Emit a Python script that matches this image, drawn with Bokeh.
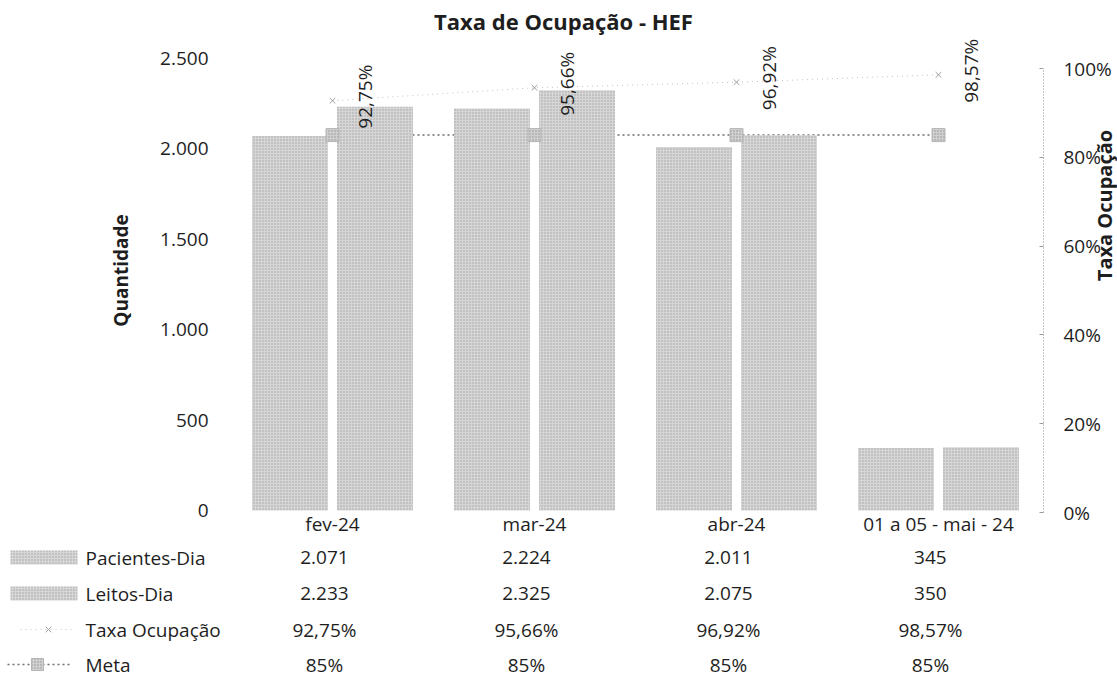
import math
from bokeh.plotting import figure
from bokeh.models import Range1d, LinearAxis, FixedTicker
from bokeh.core.properties import value
from bokeh.embed import file_html
from bokeh.resources import INLINE

# ---------------- data ----------------
categories = ["fev-24", "mar-24", "abr-24", "01 a 05 - mai - 24"]
pacientes_dia = [2071, 2224, 2011, 345]
leitos_dia = [2233, 2325, 2075, 350]
taxa_ocupacao = [92.75, 95.66, 96.92, 98.57]
meta = [85, 85, 85, 85]
series_names = ["Pacientes-Dia", "Leitos-Dia", "Taxa Ocupação", "Meta"]
left_ticks = [0, 500, 1000, 1500, 2000, 2500]
left_tick_labels = ["0", "500", "1.000", "1.500", "2.000", "2.500"]
right_ticks = [0, 20, 40, 60, 80, 100]
right_tick_labels = ["0%", "20%", "40%", "60%", "80%", "100%"]
title_text = "Taxa de Ocupação - HEF"
left_title = "Quantidade"
right_title = "Taxa Ocupação"

# ---------------- layout geometry ----------------
W, H = 1117, 686
M = 0
CAT0_X, CAT_STEP = 332, 202
ZERO_Y, PX_PER_UNIT = 510, 0.1808
PCT0_Y, PCT100_Y = 512, 68


def dx(page_x):
    return (page_x - CAT0_X) / CAT_STEP


def dy(page_y):
    return (ZERO_Y - page_y) / PX_PER_UNIT


y_start, y_end = dy(M + H), dy(M)
p0 = dy(PCT0_Y)
k = (dy(PCT100_Y) - p0) / 100.0

FONT = "Open Sans"
TXT = "#1e1e1e"
BAR_FILL = "#d6d6d6"
HATCH = "#8a8a8a"


def fmt_int(v):
    return f"{v:,}".replace(",", ".")


def fmt_pct(v):
    s = f"{v:.2f}".replace(".", ",")
    return s + "%"


p = figure(width=W, height=H,
           x_range=Range1d(dx(M), dx(M + W)),
           y_range=Range1d(y_start, y_end),
           x_axis_type=None, y_axis_type=None,
           toolbar_location=None, output_backend="svg",
           min_border=0, outline_line_color=None,
           background_fill_color="white", border_fill_color="white")
p.extra_y_ranges = {"pct": Range1d((y_start - p0) / k, (y_end - p0) / k)}

xs = list(range(len(categories)))
off, bw = 42.5 / CAT_STEP, 76 / CAT_STEP

bar_style = dict(fill_color=BAR_FILL, line_color=None,
                 hatch_pattern="dot", hatch_color=HATCH, hatch_scale=3,
                 hatch_weight=1, hatch_alpha=0.7)

# meta line (under bars)
p.line(xs, meta, y_range_name="pct", line_color="#6e6e6e",
       line_width=1.5, line_dash="2 3")

# bars
p.vbar(x=[x - off for x in xs], top=pacientes_dia, width=bw, bottom=0, **bar_style)
p.vbar(x=[x + off for x in xs], top=leitos_dia, width=bw, bottom=0, **bar_style)

# meta markers
p.scatter(xs, meta, y_range_name="pct", marker="square", size=13,
          fill_color="#d0d0d0", line_color="#b5b5b5", hatch_pattern="dot",
          hatch_color="#909090", hatch_scale=3)

# taxa line + markers
p.line(xs, taxa_ocupacao, y_range_name="pct", line_color="#c4c4c4",
       line_width=1, line_dash="1 4")
p.scatter(xs, taxa_ocupacao, y_range_name="pct", marker="x", size=8,
          line_color="#a0a0a0", line_width=1)

# rotated data labels
p.text(x=xs, y=taxa_ocupacao, text=[fmt_pct(v) for v in taxa_ocupacao],
       y_range_name="pct", angle=math.pi / 2, text_align="left",
       text_baseline="middle", x_offset=32, y_offset=28,
       text_font=value(FONT), text_font_size="19px", text_color=TXT)

# axes
ax_left = LinearAxis(fixed_location=dx(222), ticker=FixedTicker(ticks=left_ticks),
                     major_label_overrides=dict(zip(left_ticks, left_tick_labels)))
ax_right = LinearAxis(y_range_name="pct", fixed_location=dx(1043),
                      ticker=FixedTicker(ticks=right_ticks), bounds=(0, 100),
                      major_label_overrides=dict(zip(right_ticks, right_tick_labels)))
ax_bottom = LinearAxis(fixed_location=0, ticker=FixedTicker(ticks=xs),
                       major_label_overrides=dict(zip(xs, categories)))
for ax in (ax_left, ax_right, ax_bottom):
    ax.major_label_text_font = FONT
    ax.major_label_text_font_size = "19px"
    ax.major_label_text_color = TXT
    ax.minor_tick_line_color = None
for ax in (ax_left, ax_bottom):
    ax.axis_line_color = None
    ax.major_tick_line_color = None
ax_left.major_label_standoff = 8
ax_bottom.major_label_standoff = 0
ax_bottom.major_tick_out = 0
ax_bottom.major_tick_in = 0
ax_right.axis_line_color = "#8c8c8c"
ax_right.axis_line_dash = "1 2"
ax_right.major_tick_line_color = "#9a9a9a"
ax_right.major_tick_in = 4
ax_right.major_tick_out = 0
ax_right.major_label_standoff = 20
p.add_layout(ax_left, "left")
p.add_layout(ax_right, "right")
p.add_layout(ax_bottom, "below")

# titles
p.text(x=[dx(563)], y=[dy(20)], text=[title_text], text_align="center",
       text_baseline="middle", text_font=value(FONT), text_font_size="22px",
       text_font_style="bold", text_color=TXT)
p.text(x=[dx(120)], y=[dy(270)], text=[left_title], angle=math.pi / 2,
       text_align="center", text_baseline="middle", text_font=value(FONT),
       text_font_size="19px", text_font_style="bold", text_color=TXT)
p.text(x=[dx(1104)], y=[dy(205)], text=[right_title], angle=math.pi / 2,
       text_align="center", text_baseline="middle", text_font=value(FONT),
       text_font_size="20px", text_font_style="bold", text_color=TXT)

# data table
row_y = [557, 593, 629, 664]
row_vals = [[fmt_int(v) for v in pacientes_dia],
            [fmt_int(v) for v in leitos_dia],
            [fmt_pct(v) for v in taxa_ocupacao],
            [f"{v}%" for v in meta]]
for ry, name, vals in zip(row_y, series_names, row_vals):
    p.text(x=[dx(85)], y=[dy(ry)], text=[name], text_align="left",
           text_baseline="middle", text_font=value(FONT),
           text_font_size="19px", text_color=TXT)
    p.text(x=[x - 0.04 for x in xs], y=[dy(ry)] * len(xs), text=vals,
           text_align="center", text_baseline="middle", text_font=value(FONT),
           text_font_size="19px", text_color=TXT)

# legend keys in table
for ry in row_y[:2]:
    p.quad(left=[dx(10)], right=[dx(77)], top=[dy(ry - 7)], bottom=[dy(ry + 7)],
           **bar_style)
p.line([dx(20), dx(75)], [dy(row_y[2])] * 2, line_color="#c4c4c4",
       line_width=1, line_dash="1 4")
p.scatter([dx(48)], [dy(row_y[2])], marker="x", size=8, line_color="#a0a0a0")
p.line([dx(7), dx(70)], [dy(row_y[3])] * 2, line_color="#6e6e6e",
       line_width=1.5, line_dash="2 3")
p.scatter([dx(37)], [dy(row_y[3])], marker="square", size=12,
          fill_color="#d0d0d0", line_color="#b5b5b5", hatch_pattern="dot",
          hatch_color="#909090", hatch_scale=3)

open("out.html", "w").write(file_html(p, INLINE))
